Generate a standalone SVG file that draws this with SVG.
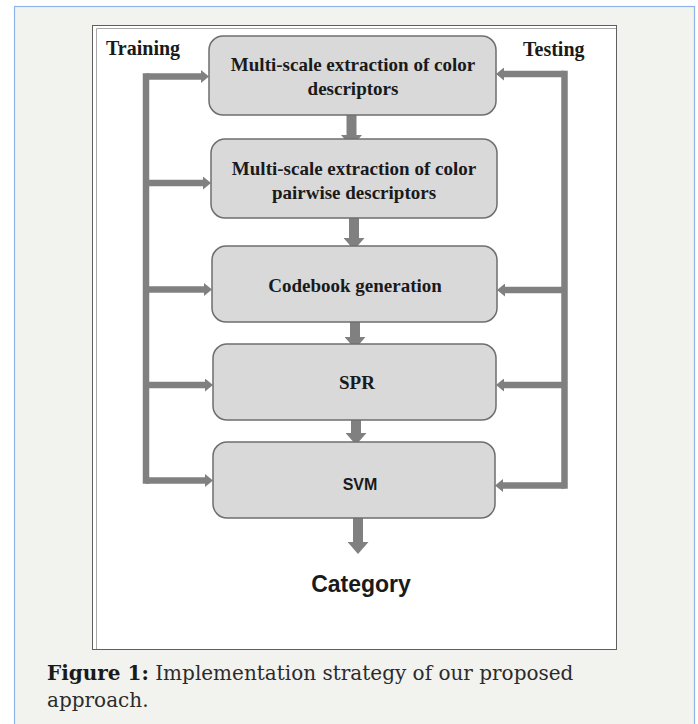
<svg xmlns="http://www.w3.org/2000/svg" width="698" height="724" viewBox="0 0 698 724">
  <style>
    .box { fill: #d9d9d9; stroke: #6e6e6e; stroke-width: 1.5; }
    .lbl { font-family: "Liberation Serif", "Times New Roman", serif; font-weight: bold; font-size: 19px; fill: #1a1a1a; text-anchor: middle; }
    .side { font-family: "Liberation Serif", "Times New Roman", serif; font-weight: bold; font-size: 20px; fill: #1a1a1a; }
    .sans { font-family: "Liberation Sans", Arial, sans-serif; font-weight: bold; fill: #1a1a1a; text-anchor: middle; }
    .bar { fill: none; stroke: #808080; stroke-width: 6.5; stroke-linecap: square; }
    .branch { fill: none; stroke: #808080; stroke-width: 6.5; marker-end: url(#headH); }
    .down { fill: none; stroke: #808080; stroke-width: 10; marker-end: url(#headV); }
    .cap { font-family: "DejaVu Serif", "Liberation Serif", serif; font-size: 20px; fill: #2b2b2b; }
  </style>
  <defs>
    <marker id="headH" markerUnits="userSpaceOnUse" markerWidth="8" markerHeight="13" refX="0" refY="6.5" orient="auto">
      <path d="M0,0 L8,6.5 L0,13 Z" fill="#808080"/>
    </marker>
    <marker id="headV" markerUnits="userSpaceOnUse" markerWidth="12" markerHeight="21" refX="0" refY="10.5" orient="auto">
      <path d="M0,0 L12,10.5 L0,21 Z" fill="#808080"/>
    </marker>
  </defs>

  <!-- page panel -->
  <rect x="0" y="0" width="698" height="724" fill="#ffffff"/>
  <rect x="14.5" y="6.5" width="680" height="740" fill="#f2f2ee" stroke="#8fb4e8" stroke-width="1.2"/>

  <!-- figure frame -->
  <g id="frame">
    <rect x="92.5" y="25.5" width="524" height="624" fill="#ffffff" stroke="#5f5f5f" stroke-width="1"/>
    <path d="M96.5,649 V28.5 H616" fill="none" stroke="#a8a8a8" stroke-width="1"/>
  </g>

  <!-- connectors -->
  <g id="connectors">
    <!-- training feed -->
    <path class="bar" d="M146,76.5 V480.5"/>
    <line class="branch" x1="146" y1="76.5" x2="201" y2="76.5"/>
    <line class="branch" x1="146" y1="183" x2="203" y2="183"/>
    <line class="branch" x1="146" y1="289.5" x2="204" y2="289.5"/>
    <line class="branch" x1="146" y1="385" x2="205" y2="385"/>
    <line class="branch" x1="146" y1="480.5" x2="205" y2="480.5"/>
    <!-- testing feed -->
    <path class="bar" d="M564.5,74 V485.5"/>
    <line class="branch" x1="564.5" y1="74" x2="504" y2="74"/>
    <line class="branch" x1="564.5" y1="290" x2="505" y2="290"/>
    <line class="branch" x1="564.5" y1="385" x2="504" y2="385"/>
    <line class="branch" x1="564.5" y1="485.5" x2="503" y2="485.5"/>
    <!-- pipeline -->
    <line class="down" x1="351.5" y1="113" x2="351.5" y2="135"/>
    <line class="down" x1="354" y1="216" x2="354" y2="238"/>
    <line class="down" x1="355" y1="315" x2="355" y2="337"/>
    <line class="down" x1="356" y1="412" x2="356" y2="433"/>
    <line class="down" x1="358" y1="516" x2="358" y2="542"/>
  </g>

  <g id="label-training"><text class="side" x="106" y="55">Training</text></g>
  <g id="label-testing"><text class="side" x="523" y="56">Testing</text></g>

  <g id="node-color">
    <rect class="box" x="209" y="36" width="287" height="79" rx="14"/>
    <text class="lbl" x="353" y="71">Multi-scale extraction of color</text>
    <text class="lbl" x="353" y="95">descriptors</text>
  </g>
  <g id="node-pairwise">
    <rect class="box" x="211" y="139" width="286" height="79" rx="14"/>
    <text class="lbl" x="354" y="175">Multi-scale extraction of color</text>
    <text class="lbl" x="354" y="199">pairwise descriptors</text>
  </g>
  <g id="node-codebook">
    <rect class="box" x="212" y="246" width="285" height="76" rx="14"/>
    <text class="lbl" x="355" y="292">Codebook generation</text>
  </g>
  <g id="node-spr">
    <rect class="box" x="213" y="344" width="283" height="76" rx="14"/>
    <text class="lbl" x="357" y="389">SPR</text>
  </g>
  <g id="node-svm">
    <rect class="box" x="213" y="442" width="282" height="76" rx="14"/>
    <text class="sans" x="360" y="490" font-size="16">SVM</text>
  </g>
  <g id="node-category">
    <text class="sans" x="361" y="592" font-size="23">Category</text>
  </g>

  <!-- caption -->
  <text class="cap" x="47" y="680"><tspan font-weight="bold" fill="#1a1a1a">Figure 1:</tspan> Implementation strategy of our proposed</text>
  <text class="cap" x="47" y="707">approach.</text>
</svg>
